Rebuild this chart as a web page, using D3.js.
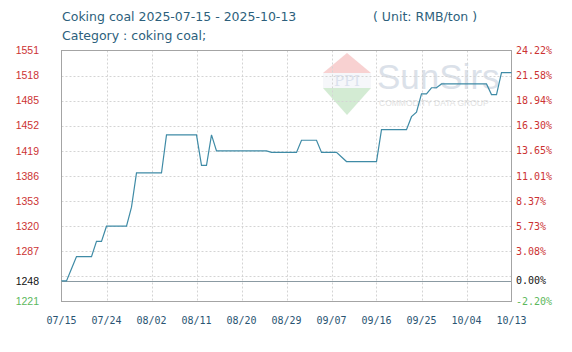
<!DOCTYPE html>
<html>
<head>
<meta charset="utf-8">
<script src="https://cdn.jsdelivr.net/npm/d3@7"></script>
<style>
  body { margin: 0; background: #fff; }
  svg { display: block; }
</style>
</head>
<body>
<svg id="chart" width="572" height="352"></svg>
<script>
// price series (vertices of the daily line)
const dates = ["2025-07-15","2025-07-16","2025-07-17","2025-07-18","2025-07-21","2025-07-22","2025-07-23","2025-07-24",
  "2025-07-28","2025-07-29","2025-07-30","2025-08-04","2025-08-05","2025-08-11","2025-08-12","2025-08-13","2025-08-14",
  "2025-08-15","2025-08-25","2025-08-26","2025-08-31","2025-09-01","2025-09-04","2025-09-05","2025-09-08","2025-09-10",
  "2025-09-16","2025-09-17","2025-09-22","2025-09-23","2025-09-24","2025-09-25","2025-09-26","2025-09-27","2025-09-28",
  "2025-09-29","2025-10-08","2025-10-09","2025-10-10","2025-10-11","2025-10-13"];
const prices = [1248,1248,1264,1280,1280,1300,1300,1320,
  1320,1345,1390,1390,1440,1440,1400,1400,1440,
  1419,1419,1417,1417,1433,1433,1417,1417,1405,
  1405,1447,1447,1464,1470,1494,1494,1502,1502,
  1507,1507,1493,1493,1522,1522];

const baseValue = 1248;
const leftTicks = [1551,1518,1485,1452,1419,1386,1353,1320,1287,1248,1221];
const rightTicks = ["24.22%","21.58%","18.94%","16.30%","13.65%","11.01%","8.37%","5.73%","3.08%","0.00%","-2.20%"];
const gridTicks = [1518,1485,1452,1419,1386,1353,1320,1287,1254];
const xTickDates = ["2025-07-15","2025-07-24","2025-08-02","2025-08-11","2025-08-20","2025-08-29",
  "2025-09-07","2025-09-16","2025-09-25","2025-10-04","2025-10-13"];

const parse = d3.timeParse("%Y-%m-%d");
const data = dates.map((d, i) => ({date: parse(d), value: prices[i]}));

var margin = {top: 50.5, left: 61.5, right: 511.5, bottom: 301.5};

const svg = d3.select("#chart");

const x = d3.scaleTime()
    .domain([parse("2025-07-15"), parse("2025-10-13")])
    .range([margin.left, margin.right]);
const y = d3.scaleLinear()
    .domain([1221, 1551])
    .range([margin.bottom, margin.top]);

// titles
svg.append("text")
    .attr("x", 62).attr("y", 21)
    .style("font-family", "DejaVu Sans").style("font-size", "12.5px")
    .attr("fill", "#2d5f7c")
    .text("Coking coal 2025-07-15 - 2025-10-13");
svg.append("text")
    .attr("x", 373).attr("y", 21)
    .style("font-family", "DejaVu Sans").style("font-size", "12.5px")
    .attr("fill", "#2d5f7c")
    .text("( Unit: RMB/ton )");
svg.append("text")
    .attr("x", 62).attr("y", 40)
    .style("font-family", "DejaVu Sans").style("font-size", "12.5px")
    .attr("fill", "#2d5f7c")
    .text("Category : coking coal;");

// watermark
const wm = svg.append("g").attr("opacity", 0.5);
wm.append("path").attr("d", "M347,53 L371,73 L323,73 Z").attr("fill", "#f2a4a4");
wm.append("rect").attr("x", 323).attr("y", 73).attr("width", 48).attr("height", 15).attr("fill", "#eef1f6");
wm.append("text").attr("x", 347).attr("y", 86).attr("text-anchor", "middle")
    .style("font-family", "DejaVu Serif").style("font-size", "15px").attr("fill", "#b8c4dc").text("PPI");
wm.append("path").attr("d", "M323,88 L371,88 L347,115 Z").attr("fill", "#a9d9a9");
wm.append("text").attr("x", 377).attr("y", 89)
    .style("font-family", "Liberation Sans").style("font-size", "35px").attr("fill", "#b8c4d4").text("SunSirs");
wm.append("text").attr("x", 379).attr("y", 106)
    .style("font-family", "Liberation Sans").style("font-size", "8.5px").attr("fill", "#c4c4c4").text("COMMODITY DATA GROUP");

// grid
svg.append("g")
    .selectAll("line")
    .data(gridTicks)
    .enter().append("line")
    .attr("x1", margin.left).attr("x2", margin.right)
    .attr("y1", d => Math.round(y(d)) + 0.5).attr("y2", d => Math.round(y(d)) + 0.5)
    .attr("stroke", "#d4d4d4").attr("stroke-dasharray", "2,2");

svg.append("g")
    .selectAll("line")
    .data(xTickDates.slice(1, -1))
    .enter().append("line")
    .attr("x1", d => Math.round(x(parse(d))) + 0.5).attr("x2", d => Math.round(x(parse(d))) + 0.5)
    .attr("y1", margin.top).attr("y2", margin.bottom)
    .attr("stroke", "#d4d4d4").attr("stroke-dasharray", "2,2");

// base line
svg.append("line")
    .attr("x1", margin.left).attr("x2", margin.right)
    .attr("y1", Math.round(y(baseValue)) + 0.5).attr("y2", Math.round(y(baseValue)) + 0.5)
    .attr("stroke", "#8b9aa2");

// frame
svg.append("rect")
    .attr("x", margin.left).attr("y", margin.top)
    .attr("width", margin.right - margin.left).attr("height", margin.bottom - margin.top)
    .attr("fill", "none").attr("stroke", "#a4a4a4");

// line
svg.append("path")
    .datum(data)
    .attr("fill", "none")
    .attr("stroke", "#3f8ba6")
    .attr("stroke-width", 1.2)
    .attr("d", d3.line().x(d => x(d.date)).y(d => y(d.value)));

// left labels
svg.append("g")
    .selectAll("text")
    .data(leftTicks)
    .enter().append("text")
    .attr("x", 39).attr("y", d => y(d)).attr("dy", "0.35em")
    .attr("text-anchor", "end")
    .style("font-family", "Liberation Sans").style("font-size", "10.5px")
    .attr("fill", d => d === baseValue ? "#111" : (d < baseValue ? "#5cb85c" : "#cc3333"))
    .text(d => d);

// right labels
svg.append("g")
    .selectAll("text")
    .data(rightTicks)
    .enter().append("text")
    .attr("x", 516).attr("y", (d, i) => y(leftTicks[i])).attr("dy", "0.35em")
    .style("font-family", "DejaVu Sans Mono").style("font-size", "10px")
    .attr("fill", (d, i) => leftTicks[i] === baseValue ? "#111" : (leftTicks[i] < baseValue ? "#5cb85c" : "#cc3333"))
    .text(d => d);

// x labels
svg.append("g")
    .selectAll("text")
    .data(xTickDates)
    .enter().append("text")
    .attr("x", d => x(parse(d))).attr("y", 324)
    .attr("text-anchor", "middle")
    .style("font-family", "DejaVu Sans Mono").style("font-size", "10px")
    .attr("fill", "#2a5472")
    .text(d => d3.timeFormat("%m/%d")(parse(d)));
</script>
</body>
</html>
